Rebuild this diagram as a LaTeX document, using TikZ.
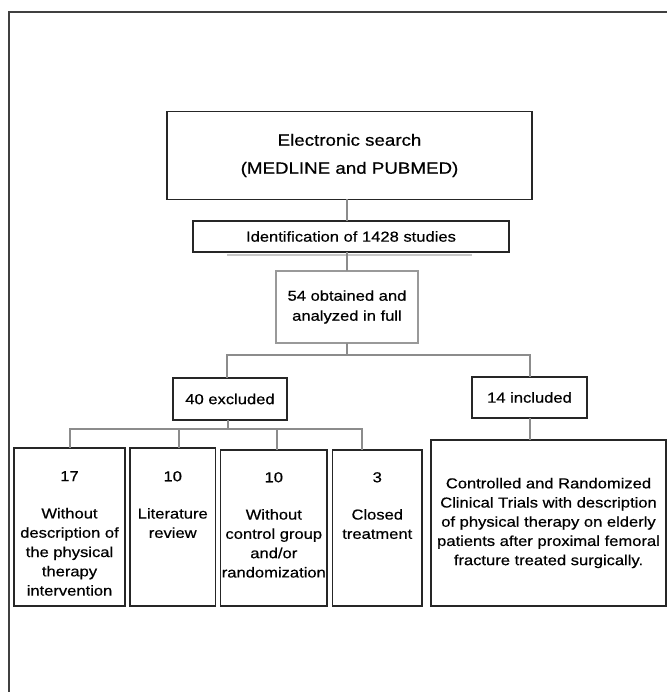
\documentclass[tikz,border=0pt]{standalone}
\usepackage{fontspec}
\setmainfont[FakeStretch=1.15,FakeBold=0.5]{Liberation Sans}
\begin{document}
\begin{tikzpicture}[x=1pt,y=-1pt,
  box/.style={draw=black!85, line width=1.5pt, inner sep=0pt, outer sep=0pt, fill=white,
    font=\fontsize{14.4}{19.3}\selectfont, align=center},
  conn/.style={draw=black!45, line width=1.9pt},
  txt/.style={font=\fontsize{14.4}{19.3}\selectfont, align=center, inner sep=0pt},
]
\useasboundingbox (0,0) rectangle (667,692);
\draw[black!75, line width=1.8pt] (9.3,692) -- (9.3,12.3) -- (667,12.3);

% coordinates for connectors
\coordinate (spine) at (347,0);
\coordinate (dl) at (227,355);
\coordinate (dr) at (530,355);
\coordinate (sb) at (228,429);
\coordinate (d1) at (69.6,429);
\coordinate (d2) at (179,429);
\coordinate (d3) at (276.6,429);
\coordinate (d4) at (362,429);
\coordinate (di) at (530,0);

% boxes
\node[box, minimum width=365pt, minimum height=88pt, font=\fontsize{16.3}{28}\selectfont] (top) at (349.5,155.5) {Electronic search\\(MEDLINE and PUBMED)};
\draw[black!22, line width=1.6pt] (227,254.8) -- (472,254.8);
\node[box, minimum width=316pt, minimum height=31pt] (ident) at (351,236.5) {Identification of 1428 studies};
\node[box, draw=black!40, minimum width=142pt, minimum height=72pt, font=\fontsize{14.4}{20}\selectfont] (full) at (347,307) {54 obtained and\\analyzed in full};
\node[box, minimum width=114pt, minimum height=42pt] (excl) at (230,399) {40 excluded};
\node[box, minimum width=115pt, minimum height=41pt] (incl) at (529.5,397.5) {14 included};
\node[box, minimum width=111pt, minimum height=158pt] (b1) at (69.5,527) {};
\node[box, minimum width=85.5pt, minimum height=158pt] (b2) at (172.75,527) {};
\node[box, minimum width=106.4pt, minimum height=156pt] (b3) at (273.8,528) {};
\node[box, minimum width=89.5pt, minimum height=156pt] (b4) at (377.25,528) {};
\node[box, minimum width=235pt, minimum height=166pt, font=\fontsize{14.4}{19.2}\selectfont] (big) at (548.5,523) {Controlled and Randomized\\Clinical Trials with description\\of physical therapy on elderly\\patients after proximal femoral\\fracture treated surgically.};

% texts of the excluded boxes
\node[txt, anchor=north] (b1t) at (69.5,471) {17\\[18pt]Without\\description of\\the physical\\therapy\\intervention};
\node[txt, anchor=north] (b2t) at (172.75,471) {10\\[18pt]Literature\\review};
\node[txt, anchor=north] (b3t) at (273.8,472) {10\\[18pt]Without\\control group\\and/or\\randomization};
\node[txt, anchor=north] (b4t) at (377.25,472) {3\\[18pt]Closed\\treatment};

% connectors
\draw[conn] (top.south -| spine) -- (ident.north -| spine);
\draw[conn] (ident.south -| spine) -- (full.north -| spine);
\draw[conn] (full.south -| spine) -- (spine |- dl);
\draw[conn] (excl.north -| dl) -- (dl) -- (dr) -- (incl.north -| dr);
\draw[conn] (excl.south -| sb) -- (sb);
\draw[conn] (b1.north -| d1) -- (d1) -- (d4) -- (b4.north -| d4);
\draw[conn] (b2.north -| d2) -- (d2);
\draw[conn] (b3.north -| d3) -- (d3);
\draw[conn] (incl.south -| di) -- (big.north -| di);
\end{tikzpicture}
\end{document}
